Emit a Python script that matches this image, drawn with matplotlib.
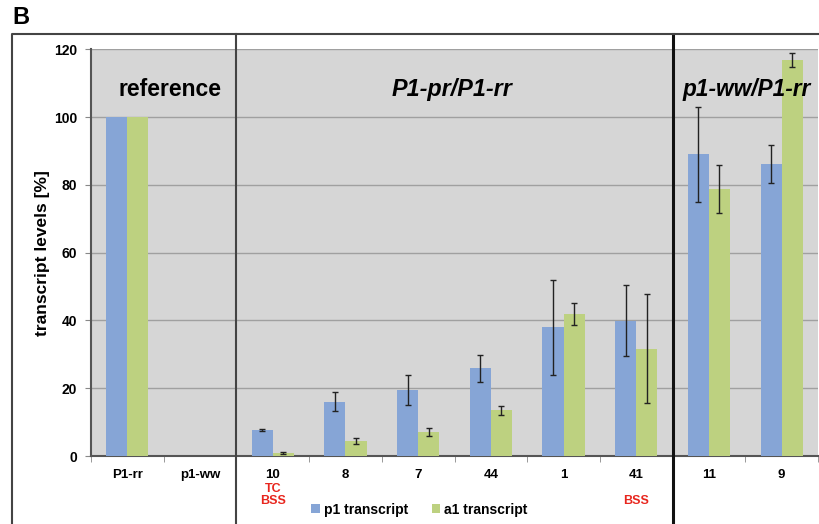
import matplotlib
matplotlib.use("Agg")
import matplotlib.pyplot as plt
from matplotlib.lines import Line2D
import numpy as np

plt.rcParams['font.family'] = ['Liberation Sans', 'DejaVu Sans']

categories = ["P1-rr", "p1-ww", "10", "8", "7", "44", "1", "41", "11", "9"]
p1_values = [100, 0, 7.6, 16.0, 19.5, 25.9, 38.0, 39.9, 89.0, 86.2]
p1_errors = [0, 0, 0.3, 2.8, 4.5, 4.0, 14.0, 10.5, 14.0, 5.6]
a1_values = [100, 0, 0.8, 4.4, 7.2, 13.5, 42.0, 31.7, 78.8, 116.8]
a1_errors = [0, 0, 0.3, 0.8, 1.2, 1.4, 3.2, 16.2, 7.0, 2.0]
notes = {"10": ["TC", "BSS"], "41": ["", "BSS"]}
group_titles = ["reference", "P1-pr/P1-rr", "p1-ww/P1-rr"]
series_names = ["p1 transcript", "a1 transcript"]

blue = "#86A5D6"
green = "#BDD180"

W, H = 819, 524
fig = plt.figure(figsize=(W / 100, H / 100), dpi=100)
ax = fig.add_axes([91 / W, (H - 456) / H, (818 - 91) / W, (456 - 49.3) / H])
ax.set_facecolor("#D6D6D6")

x = np.arange(len(categories))
bw = 0.29
err_kw = dict(ecolor="#222222", elinewidth=1.0, capsize=2.5, capthick=1.0)
p1_err = [e if e > 0 else np.nan for e in p1_errors]
a1_err = [e if e > 0 else np.nan for e in a1_errors]
ax.bar(x - bw / 2, p1_values, bw, color=blue, yerr=p1_err, error_kw=err_kw,
       label=series_names[0], zorder=3)
ax.bar(x + bw / 2, a1_values, bw, color=green, yerr=a1_err, error_kw=err_kw,
       label=series_names[1], zorder=3)

ax.set_xlim(-0.5, len(categories) - 0.5)
ax.set_ylim(0, 120)
ax.set_yticks(range(0, 121, 20))
ax.yaxis.grid(True, color="#A0A0A0", linewidth=1.0, zorder=0)
ax.set_axisbelow(True)

ax.set_xticks(x)
ax.set_xticklabels(categories, fontsize=9.5, fontweight="bold")
ax.set_xticks(np.arange(-0.5, len(categories), 1.0), minor=True)
ax.tick_params(axis="x", which="major", length=0, pad=9.5)
ax.tick_params(axis="x", which="minor", length=4, color="#888888")
ax.tick_params(axis="y", length=4, color="#888888", pad=6)
for lab in ax.get_yticklabels():
    lab.set_fontweight("bold")
    lab.set_fontsize(10)

for side in ["top", "right"]:
    ax.spines[side].set_visible(False)
ax.spines["left"].set_color("#555555")
ax.spines["bottom"].set_color("#555555")
ax.spines["left"].set_linewidth(1.5)
ax.spines["bottom"].set_linewidth(1.5)

ax.set_ylabel("transcript levels [%]", fontsize=12.5, fontweight="bold", labelpad=3)

# red notes under tick labels
for cat, lines in notes.items():
    i = categories.index(cat)
    for k, txt in enumerate(lines):
        if not txt:
            continue
        ax.annotate(txt, xy=(i, 0), xycoords=("data", "axes fraction"),
                    xytext=(0, -23.6 - 8.7 * k), textcoords="offset points",
                    ha="center", va="center", color="#E8261E", fontsize=9,
                    fontweight="bold")

# group titles
ax.text(0.58, 108, group_titles[0], ha="center", va="center", fontsize=16.5,
        fontweight="bold")
ax.text(4.47, 108, group_titles[1], ha="center", va="center", fontsize=16.8,
        fontweight="bold", style="italic")
ax.text(8.52, 108, group_titles[2], ha="center", va="center", fontsize=16.3,
        fontweight="bold", style="italic")

# group separators
axh = 456 - 49.3
ymax = (456 - 34) / axh
ymin = -(524 - 456) / axh
ax.axvline(1.5, ymin=ymin, ymax=ymax, color="#444444", linewidth=1.5, clip_on=False, zorder=5)
ax.axvline(7.5, ymin=ymin, ymax=ymax, color="#111111", linewidth=2.2, clip_on=False, zorder=5)

# outer frame
fig.add_artist(Line2D([12 / W, 12 / W, 1.0], [0, (H - 34) / H, (H - 34) / H],
                      color="#444444", linewidth=1.5))

fig.text(12 / W, (H - 18) / H, "B", fontsize=17, fontweight="bold", va="center", ha="left")

leg = ax.legend(loc="upper center", bbox_to_anchor=(0.452, -0.084), ncol=2, frameon=False,
                fontsize=10, handlelength=0.6, handleheight=0.6, handletextpad=0.3,
                columnspacing=1.7)
for t in leg.get_texts():
    t.set_fontweight("bold")

fig.savefig("out.png", dpi=100)
